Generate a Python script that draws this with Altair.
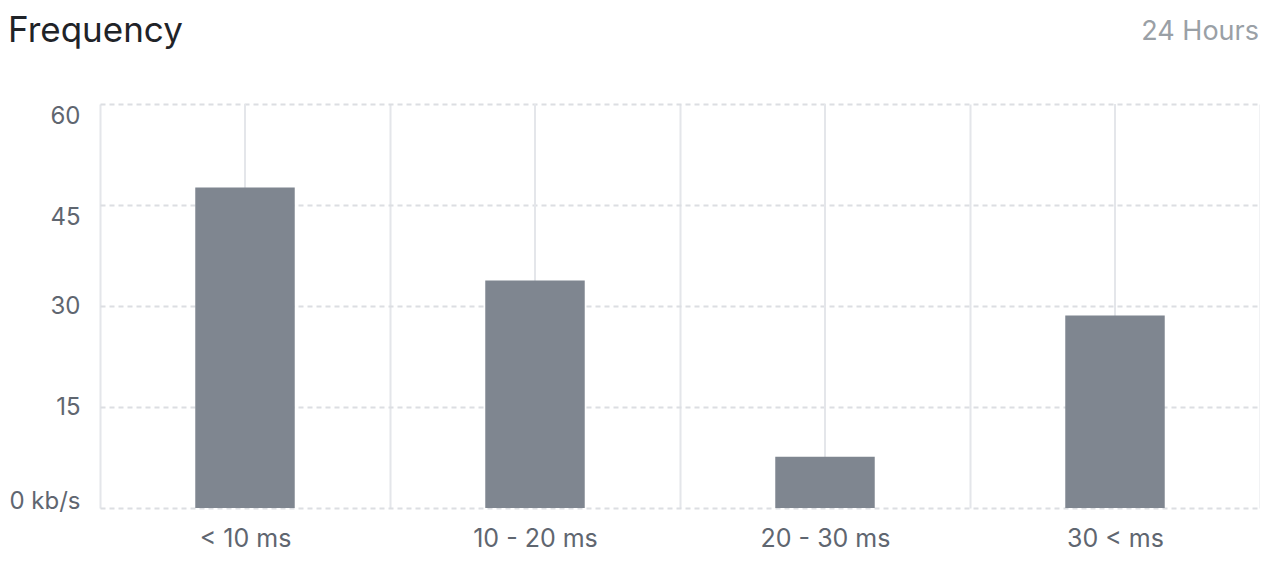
import altair as alt
import pandas as pd

categories = ["< 10 ms", "10 - 20 ms", "20 - 30 ms", "30 < ms"]
values = [47.6, 33.8, 7.6, 28.6]
y_ticks = [0, 15, 30, 45, 60]
title_text = ["Frequency"]
period_text = ["24 Hours"]

W, H = 1160, 404
FONT = "Inter"
LABEL = "#5f6670"
GRID = "#e4e6ea"

df = pd.DataFrame({"range": categories, "freq": values})

x_enc = alt.X(
    "range:N",
    sort=categories,
    scale=alt.Scale(paddingInner=0, paddingOuter=0),
    axis=alt.Axis(
        title=None, grid=True, tickBand="extent", gridColor=GRID, gridWidth=2,
        domain=False, ticks=False, labelAngle=0, labelFont=FONT, labelFontSize=25,
        labelColor=LABEL, labelPadding=18,
    ),
)

y_enc = alt.Y(
    "freq:Q",
    scale=alt.Scale(domain=[0, 60], nice=False),
    axis=alt.Axis(
        values=y_ticks, title=None, domain=False, ticks=False,
        gridDash=[5, 4], gridColor="#dcdee2", gridWidth=2,
        labelExpr="datum.value == 0 ? '0 kb/s' : datum.label",
        labelFont=FONT, labelFontSize=24, labelColor=LABEL, labelPadding=20,
        labelBaseline={
            "condition": [
                {"test": "datum.value >= 45", "value": "top"},
                {"test": "datum.value > 0", "value": "middle"},
            ],
            "value": "alphabetic",
        },
    ),
)

centers = alt.Chart(df).mark_rule(color=GRID, strokeWidth=2).encode(
    x=x_enc, y=alt.value(0), y2=alt.value(H)
)

bars = alt.Chart(df).mark_bar(color="#7f8690", width=alt.RelativeBandSize(0.343)).encode(
    x=x_enc, y=y_enc
)

title = alt.Chart(pd.DataFrame({"t": title_text})).mark_text(
    align="left", baseline="alphabetic", font=FONT, fontSize=35, color="#1f2328"
).encode(x=alt.value(-92), y=alt.value(-62), text="t:N")

period = alt.Chart(pd.DataFrame({"t": period_text})).mark_text(
    align="right", baseline="alphabetic", font=FONT, fontSize=27, color="#9aa0a6"
).encode(x=alt.value(W - 1), y=alt.value(-64), text="t:N")

chart = alt.layer(centers, bars, title, period).properties(
    width=W,
    height=H,
    autosize=alt.AutoSizeParams(type="none"),
    padding={"left": 92, "top": 96, "right": 0, "bottom": 46},
).configure_view(stroke=None)

chart.save("out.html", embed_options={"renderer": "svg", "actions": False})
